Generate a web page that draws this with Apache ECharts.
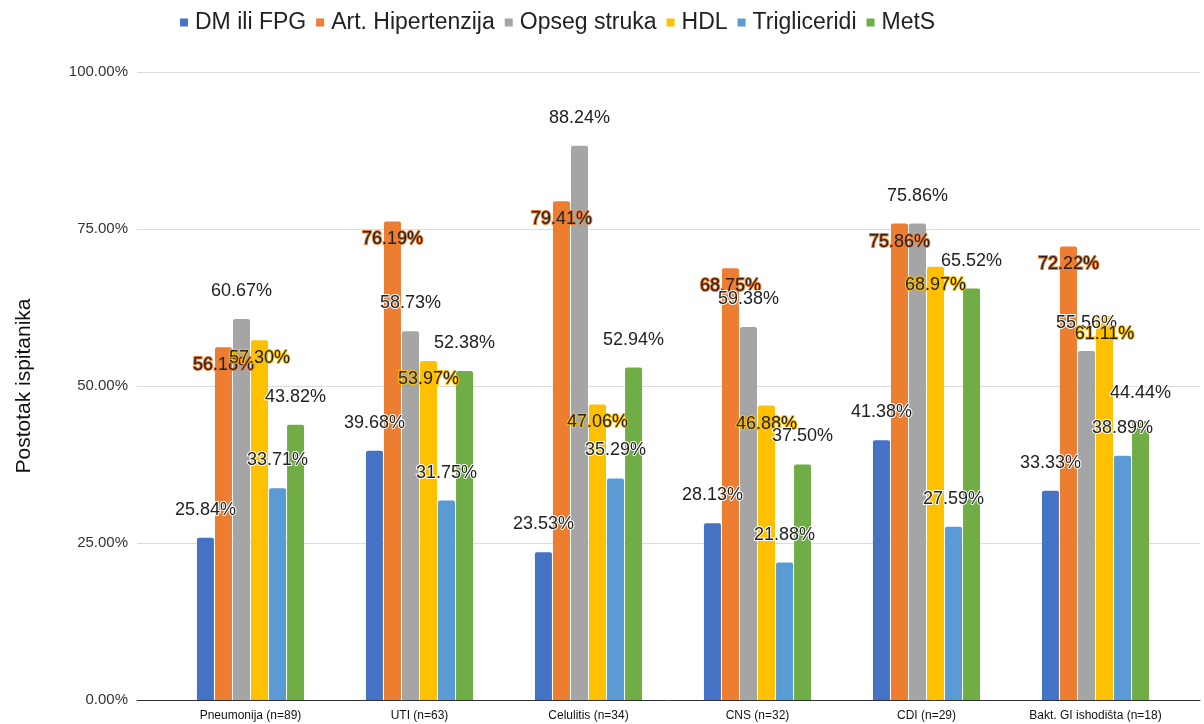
<!DOCTYPE html>
<html>
<head>
<meta charset="utf-8">
<script src="https://cdn.jsdelivr.net/npm/echarts@6/dist/echarts.min.js"></script>
<style>
  html, body { margin: 0; padding: 0; background: #fff; }
  #chart { width: 1204px; height: 724px; }
</style>
</head>
<body>
<div id="chart"></div>
<script>
// kategorije i vrijednosti (%)
const categories = ['Pneumonija (n=89)', 'UTI (n=63)', 'Celulitis (n=34)', 'CNS (n=32)', 'CDI (n=29)', 'Bakt. GI ishodišta (n=18)']
const seriesNames = ['DM ili FPG', 'Art. Hipertenzija', 'Opseg struka', 'HDL', 'Trigliceridi', 'MetS']
const dmFpg = [25.84, 39.68, 23.53, 28.13, 41.38, 33.33]
const artHipertenzija = [56.18, 76.19, 79.41, 68.75, 75.86, 72.22]
const opsegStruka = [60.67, 58.73, 88.24, 59.38, 75.86, 55.56]
const hdl = [57.30, 53.97, 47.06, 46.88, 68.97, 61.11]
const trigliceridi = [33.71, 31.75, 35.29, 21.88, 27.59, 38.89]
const mets = [43.82, 52.38, 52.94, 37.50, 65.52, 44.44]
const yTicks = [0, 25, 50, 75, 100]

const colors = ['#4472C4', '#ED7D31', '#A5A5A5', '#FFC000', '#5B9BD5', '#70AD47']
const allData = [dmFpg, artHipertenzija, opsegStruka, hdl, trigliceridi, mets]
// narandzasta i zuta imaju oznaku unutar stupca
const insideLabel = [false, true, false, true, false, false]

const chart = echarts.init(document.getElementById('chart'))

const series = allData.map((data, i) => ({
  name: seriesNames[i],
  type: 'bar',
  xAxisIndex: 0,
  yAxisIndex: 0,
  data: data,
  barWidth: 17,
  barGap: '6%',
  itemStyle: { color: colors[i], borderRadius: [2, 2, 0, 0] },
  label: {
    show: true,
    position: insideLabel[i] ? 'insideTop' : 'top',
    offset: insideLabel[i] ? [0, 4] : [0, -14],
    formatter: p => p.value.toFixed(2) + '%',
    fontFamily: 'Liberation Sans, Arial, sans-serif',
    fontSize: 18,
    color: '#222',
    textBorderColor: insideLabel[i] ? colors[i] : '#fff',
    textBorderWidth: 2
  }
}))

const option = {
  backgroundColor: '#fff',
  animation: false,
  textStyle: { fontFamily: 'Liberation Sans, Arial, sans-serif' },
  legend: {
    top: 6,
    left: 175,
    itemWidth: 8,
    itemHeight: 8,
    itemGap: 10,
    icon: 'rect',
    data: seriesNames,
    textStyle: { fontSize: 23, color: '#222', padding: [0, 0, 0, 2] }
  },
  grid: [
    { left: 166, right: 24, top: 72, bottom: 24 },
    { left: 137, right: 4, top: 72, bottom: 24 }
  ],
  xAxis: [
    {
      type: 'category',
      gridIndex: 0,
      data: categories,
      axisLine: { show: false },
      axisTick: { show: false },
      axisLabel: { fontSize: 12, color: '#111', margin: 10, interval: 0 }
    },
    {
      type: 'value',
      gridIndex: 1,
      min: 0,
      max: 1,
      axisLine: { show: true, lineStyle: { color: '#333', width: 1 } },
      axisTick: { show: false },
      axisLabel: { show: false },
      splitLine: { show: false }
    }
  ],
  yAxis: [
    {
      type: 'value',
      gridIndex: 0,
      min: 0,
      max: 100,
      show: false,
      splitLine: { show: false }
    },
    {
      type: 'value',
      gridIndex: 1,
      min: yTicks[0],
      max: yTicks[yTicks.length - 1],
      interval: 25,
      name: 'Postotak ispitanika',
      nameLocation: 'middle',
      nameGap: 102,
      nameTextStyle: { fontSize: 21, color: '#111' },
      axisLine: { show: false },
      axisTick: { show: false },
      axisLabel: {
        fontSize: 15,
        color: '#333',
        margin: 9,
        formatter: v => v.toFixed(2) + '%'
      },
      splitLine: { lineStyle: { color: '#dcdcdc', width: 1 } }
    }
  ],
  series: series
}

chart.setOption(option)
</script>
</body>
</html>
